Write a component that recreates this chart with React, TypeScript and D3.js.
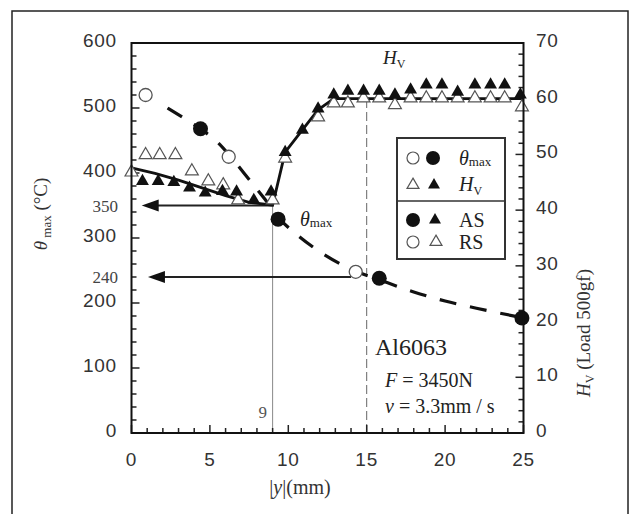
import React from 'react';
import * as d3 from 'd3';

// axis ticks
const xTicks = [0, 5, 10, 15, 20, 25];
const thetaTicks = [0, 100, 200, 300, 400, 500, 600];
const hvTicks = [0, 10, 20, 30, 40, 50, 60, 70];

// theta max (left axis), AS = filled, RS = open
const thetaAsX = [4.4, 9.35, 15.8, 24.9];
const thetaAsY = [468, 329, 238, 177];
const thetaRsX = [0.9, 6.2, 14.3];
const thetaRsY = [520, 425, 248];

// dashed fit for theta max
const thetaFitX = [2.3, 3.3, 4.4, 5.5, 6.5, 7.5, 8.5, 9.35, 10.5, 12, 14, 16, 18, 20, 22, 25];
const thetaFitY = [500, 485, 468, 447, 420, 390, 360, 332, 306, 279, 252, 234, 217, 203, 192, 177];

// hardness Hv (right axis)
const hvAsX = [0.7, 1.7, 2.7, 3.7, 4.7, 5.8, 6.7, 7.8, 8.9, 9.8, 10.9, 11.9, 12.9, 13.8, 14.8, 15.8, 16.8, 17.8, 18.8, 19.8, 20.8, 21.9, 22.9, 23.8, 24.8];
const hvAsY = [45.2, 45.2, 45.0, 44.0, 43.1, 43.4, 43.3, 41.8, 43.3, 50.4, 54.4, 58.2, 60.7, 61.4, 61.4, 61.4, 60.7, 61.6, 62.5, 62.5, 61.2, 62.5, 62.5, 62.5, 60.7];
const hvRsX = [0, 0.9, 1.8, 2.8, 3.85, 4.9, 5.85, 6.8, 9.0, 9.8, 11.9, 12.9, 13.8, 14.8, 15.8, 16.8, 17.8, 18.8, 19.8, 20.8, 21.9, 22.9, 23.8, 24.9];
const hvRsY = [46.8, 49.9, 49.9, 49.9, 47.0, 45.2, 44.5, 41.8, 41.8, 49.3, 56.7, 59.2, 59.2, 60.1, 60.1, 58.9, 60.1, 60.1, 60.1, 60.1, 60.1, 60.1, 60.1, 58.5];

// solid fit for Hv
const hvFitX = [0, 1.5, 3, 4.5, 6, 7.5, 9, 9.8, 10.9, 11.9, 12.9, 25];
const hvFitY = [47.6, 46.6, 45.4, 44.0, 42.6, 41.4, 40.9, 50.4, 54.4, 58.0, 60.0, 60.0];

// arrows read back to the theta axis
const arrowValue = [350, 240];
const arrowFrom = [9, 14];
const arrowTo = [0.65, 1.05];
const arrowLabel = ['350', '240'];

const SERIF = '"Liberation Serif", "Times New Roman", serif';
const SANS = '"Liberation Sans", Arial, sans-serif';

const App = () => {
  const left = 131.5, right = 523.5, top = 43, bottom = 433;

  const x = d3.scaleLinear().domain([0, 25]).range([left, right]);
  const yT = d3.scaleLinear().domain([0, 600]).range([bottom, top]);
  const yH = d3.scaleLinear().domain([0, 70]).range([bottom, top]);

  const thetaLine = d3.line<number>()
    .x((d, i) => x(thetaFitX[i]))
    .y(d => yT(d))
    .curve(d3.curveMonotoneX);

  const hvLine = d3.line<number>()
    .x((d, i) => x(hvFitX[i]))
    .y(d => yH(d));

  const tri = d3.symbol(d3.symbolTriangle, 72)();
  const triSmall = d3.symbol(d3.symbolTriangle, 62)();

  const xMinor = d3.range(0, 26, 1);
  const tMinor = d3.range(0, 601, 20);
  const hMinor = d3.range(0, 71, 2);

  const xLine9 = x(9);
  const xLine15 = x(15);

  return (
    <svg width={630} height={514} style={{ position: 'absolute', left: 0, top: 0, background: '#fff' }}>
      {/* outer figure frame */}
      <rect x={12} y={11} width={616} height={520} fill="none" stroke="#222" strokeWidth={1.5} />

      {/* reference verticals */}
      <line x1={xLine9} x2={xLine9} y1={bottom} y2={yH(40.9)} stroke="#888" strokeWidth={1} />
      <line x1={xLine15} x2={xLine15} y1={bottom} y2={yH(60)} stroke="#666" strokeWidth={1} strokeDasharray="9,4" />
      <text x={xLine9 - 14} y={418} fontFamily={SERIF} fontSize={17} fill="#555">9</text>

      {/* axes ticks */}
      {xMinor.map(v => (
        <line key={'xm' + v} x1={x(v)} x2={x(v)} y1={bottom} y2={bottom - (v % 5 === 0 ? 8 : 5)} stroke="#222" strokeWidth={1.5} />
      ))}
      {tMinor.map(v => (
        <line key={'tm' + v} x1={left} x2={left + (v % 100 === 0 ? 8 : 5)} y1={yT(v)} y2={yT(v)} stroke="#222" strokeWidth={1.5} />
      ))}
      {hMinor.map(v => (
        <line key={'hm' + v} x1={right} x2={right - (v % 10 === 0 ? 8 : 5)} y1={yH(v)} y2={yH(v)} stroke="#222" strokeWidth={1.5} />
      ))}

      {/* tick labels */}
      {xTicks.map(v => (
        <text key={'xt' + v} x={x(v)} y={466} textAnchor="middle" fontFamily={SANS} fontSize={19} letterSpacing={0.8} fill="#333">{v}</text>
      ))}
      {thetaTicks.map(v => (
        <text key={'tt' + v} x={117} y={yT(v) + 4} textAnchor="end" fontFamily={SANS} fontSize={19} letterSpacing={0.8} fill="#333">{v}</text>
      ))}
      {hvTicks.map(v => (
        <text key={'ht' + v} x={536} y={yH(v) + 4} textAnchor="start" fontFamily={SANS} fontSize={19} letterSpacing={0.8} fill="#333">{v}</text>
      ))}
      {arrowValue.map((v, i) => (
        <text key={'al' + i} x={118} y={yT(v) + 6} textAnchor="end" fontFamily={SERIF} fontSize={17} fill="#444">{arrowLabel[i]}</text>
      ))}

      {/* axis titles */}
      <text transform="translate(47,214) rotate(-90)" textAnchor="middle" fontFamily={SERIF} fontSize={19} fill="#333">
        <tspan fontStyle="italic">θ</tspan>
        <tspan fontSize={13} dy={4}> max</tspan>
        <tspan dy={-4}> (°C)</tspan>
      </text>
      <text transform="translate(590,333) rotate(-90)" textAnchor="middle" fontFamily={SERIF} fontSize={19} fill="#333">
        <tspan fontStyle="italic">H</tspan>
        <tspan fontSize={12} dy={4}>V</tspan>
        <tspan dy={-4}> (Load 500gf)</tspan>
      </text>
      <text x={300} y={494} textAnchor="middle" fontFamily={SERIF} fontSize={20} fill="#333">
        |<tspan fontStyle="italic">y</tspan>|(mm)
      </text>

      {/* arrows */}
      {arrowValue.map((v, i) => {
        const yy = yT(v);
        const x0 = x(arrowFrom[i]);
        const x1 = x(arrowTo[i]);
        return (
          <g key={'ar' + i}>
            <line x1={x0} x2={x1 + 14} y1={yy} y2={yy} stroke="#222" strokeWidth={2} />
            <path d={`M${x1},${yy} L${x1 + 17},${yy - 6} L${x1 + 17},${yy + 6} Z`} fill="#111" />
          </g>
        );
      })}

      {/* fits */}
      <path d={hvLine(hvFitY) || ''} fill="none" stroke="#111" strokeWidth={2.8} />
      <path d={thetaLine(thetaFitY) || ''} fill="none" stroke="#111" strokeWidth={3.2} strokeDasharray="17,14" />

      {/* Hv markers */}
      {hvRsY.map((v, i) => (
        <path key={'hr' + i} d={tri || ''} transform={`translate(${x(hvRsX[i])},${yH(v)})`} fill="#fff" stroke="#555" strokeWidth={1.2} />
      ))}
      {hvAsY.map((v, i) => (
        <path key={'ha' + i} d={tri || ''} transform={`translate(${x(hvAsX[i])},${yH(v)})`} fill="#111" />
      ))}

      {/* theta markers */}
      {thetaRsY.map((v, i) => (
        <circle key={'tr' + i} cx={x(thetaRsX[i])} cy={yT(v)} r={6.5} fill="#fff" stroke="#555" strokeWidth={1.3} />
      ))}
      {thetaAsY.map((v, i) => (
        <circle key={'ta' + i} cx={x(thetaAsX[i])} cy={yT(v)} r={7.5} fill="#111" />
      ))}

      {/* plot frame */}
      <rect x={left} y={top} width={right - left} height={bottom - top} fill="none" stroke="#111" strokeWidth={2} />

      {/* annotations */}
      <text x={383} y={64} fontFamily={SERIF} fontSize={19} fill="#222">
        <tspan fontStyle="italic">H</tspan>
        <tspan fontSize={12} dy={4}>V</tspan>
      </text>
      <text x={300} y={226} fontFamily={SERIF} fontSize={20} fill="#222">
        <tspan fontStyle="italic">θ</tspan>
        <tspan fontSize={13} dy={1}>max</tspan>
      </text>
      <text x={375} y={355} fontFamily={SERIF} fontSize={24} fill="#222">Al6063</text>
      <text x={385} y={387} fontFamily={SERIF} fontSize={20} fill="#222">
        <tspan fontStyle="italic">F</tspan> = 3450N
      </text>
      <text x={385} y={413} fontFamily={SERIF} fontSize={20} fill="#222">
        <tspan fontStyle="italic">v</tspan> = 3.3mm / s
      </text>

      {/* legend */}
      <g>
        <rect x={397} y={138} width={108} height={121} fill="#fff" stroke="#333" strokeWidth={2} />
        <line x1={397} x2={505} y1={201} y2={201} stroke="#333" strokeWidth={1.5} />
        <circle cx={413} cy={158} r={6} fill="#fff" stroke="#555" strokeWidth={1.2} />
        <circle cx={433} cy={158} r={7} fill="#111" />
        <text x={459} y={165} fontFamily={SERIF} fontSize={20} fill="#222">
          <tspan fontStyle="italic">θ</tspan>
          <tspan fontSize={13} dy={1}>max</tspan>
        </text>
        <path d={triSmall || ''} transform="translate(413,185)" fill="#fff" stroke="#555" strokeWidth={1.2} />
        <path d={triSmall || ''} transform="translate(434,185)" fill="#111" />
        <text x={459} y={191} fontFamily={SERIF} fontSize={20} fill="#222">
          <tspan fontStyle="italic">H</tspan>
          <tspan fontSize={12} dy={4}>V</tspan>
        </text>
        <circle cx={413} cy={220} r={7} fill="#111" />
        <path d={triSmall || ''} transform="translate(435,220)" fill="#111" />
        <text x={459} y={227} fontFamily={SERIF} fontSize={20} fill="#222">AS</text>
        <circle cx={413} cy={242} r={6} fill="#fff" stroke="#555" strokeWidth={1.2} />
        <path d={triSmall || ''} transform="translate(436,242)" fill="#fff" stroke="#555" strokeWidth={1.2} />
        <text x={459} y={249} fontFamily={SERIF} fontSize={20} fill="#222">RS</text>
      </g>
    </svg>
  );
};

export default App;
